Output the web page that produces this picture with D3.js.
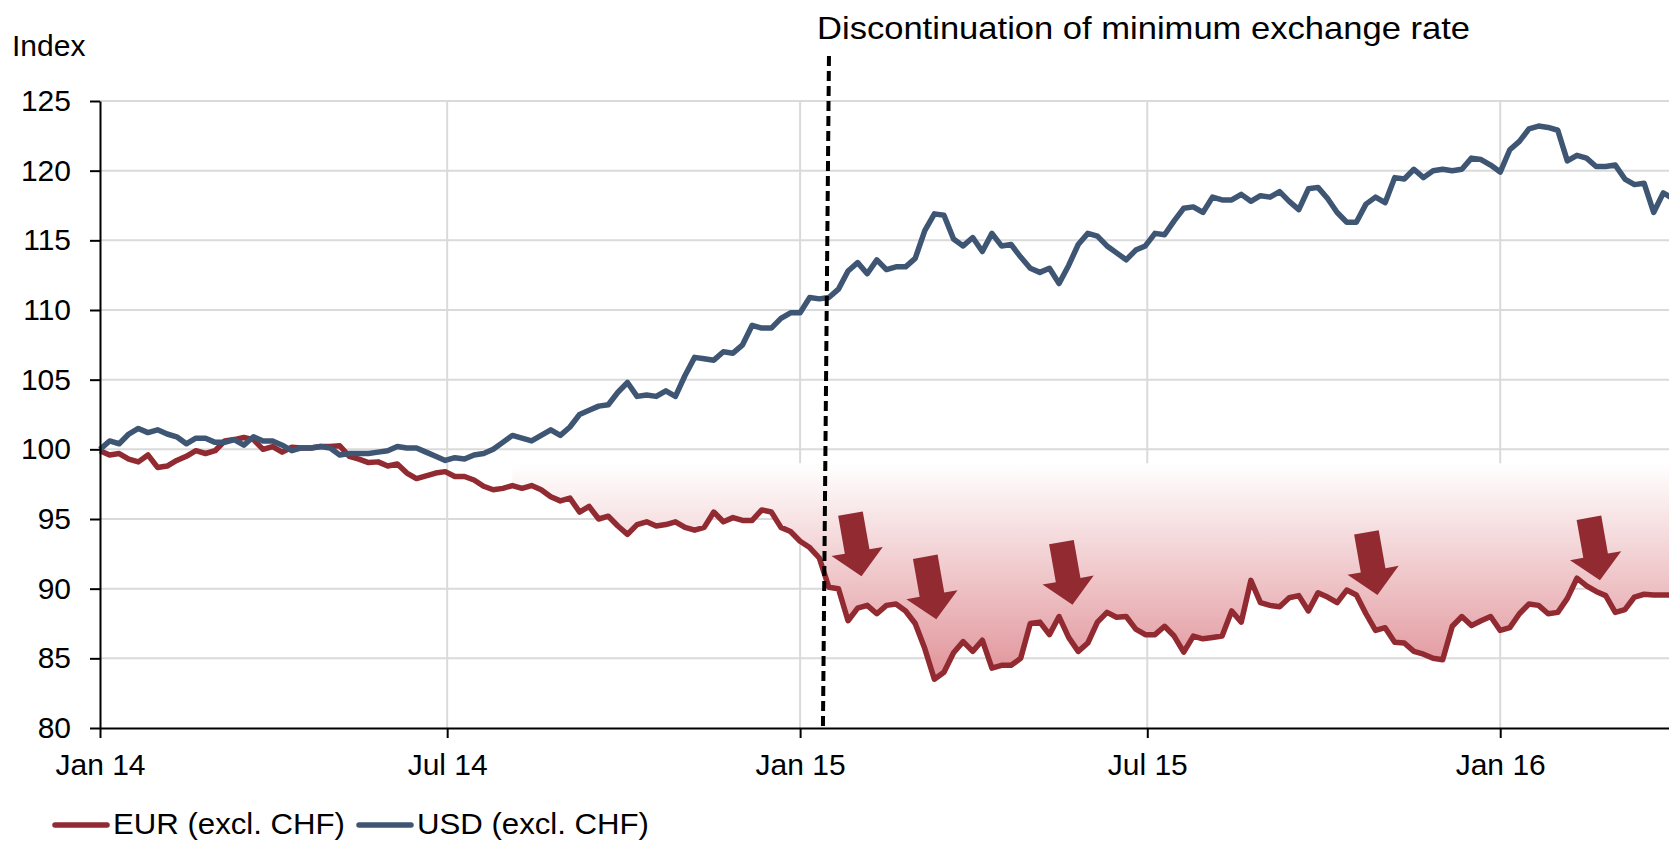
<!DOCTYPE html>
<html>
<head>
<meta charset="utf-8">
<script src="https://cdn.jsdelivr.net/npm/d3@7"></script>
<style>
  html, body { margin: 0; padding: 0; background: #fff; }
  svg { display: block; }
  text { font-family: "Liberation Sans", Arial, Helvetica, sans-serif; fill: #000; }
</style>
</head>
<body>
<svg id="chart" width="1669" height="842"></svg>
<script>
// Series are sampled every 5 days starting on 1 Jan 2014.
const startDate = new Date(2014, 0, 1);
const stepDays = 5;

const usd = [
  100.0, 100.6, 100.4, 101.1, 101.5, 101.2, 101.4, 101.1, 100.9, 100.4,
  100.8, 100.8, 100.5, 100.5, 100.7, 100.3, 100.9, 100.6, 100.6, 100.3,
  99.9, 100.1, 100.1, 100.2, 100.1, 99.6, 99.7, 99.7, 99.7, 99.8,
  99.9, 100.2, 100.1, 100.1, 99.8, 99.5, 99.2, 99.4, 99.3, 99.6,
  99.7, 100.0, 100.5, 101.0, 100.8, 100.6, 101.0, 101.4, 101.0, 101.6,
  102.5, 102.8, 103.1, 103.2, 104.1, 104.8, 103.8, 103.9, 103.8, 104.2,
  103.8, 105.3, 106.6, 106.5, 106.4, 107.0, 106.9, 107.5, 108.9, 108.7,
  108.7, 109.4, 109.8, 109.8, 110.9, 110.8, 110.9, 111.5, 112.8, 113.4,
  112.6, 113.6, 112.9, 113.1, 113.1, 113.7, 115.7, 116.9, 116.8, 115.1,
  114.6, 115.2, 114.2, 115.5, 114.6, 114.7, 113.8, 113.0, 112.7, 113.0,
  111.9, 113.2, 114.7, 115.5, 115.3, 114.6, 114.1, 113.6, 114.3, 114.6,
  115.5, 115.4, 116.4, 117.3, 117.4, 117.0, 118.1, 117.9, 117.9, 118.3,
  117.8, 118.2, 118.1, 118.5, 117.8, 117.2, 118.7, 118.8, 118.0, 117.0,
  116.3, 116.3, 117.6, 118.1, 117.7, 119.5, 119.4, 120.1, 119.5, 120.0,
  120.1, 120.0, 120.1, 120.9, 120.8, 120.4, 119.9, 121.5, 122.1, 123.0,
  123.2, 123.1, 122.9, 120.7, 121.1, 120.9, 120.3, 120.3, 120.4, 119.4,
  119.0, 119.1, 117.0, 118.4, 118.0
];

const eur = [
  99.9, 99.6, 99.7, 99.3, 99.1, 99.6, 98.7, 98.8, 99.2, 99.5,
  99.9, 99.7, 99.9, 100.6, 100.7, 100.85, 100.7, 100.0, 100.2, 99.8,
  100.15, 100.1, 100.1, 100.2, 100.2, 100.25, 99.5, 99.3, 99.05, 99.1,
  98.8, 98.95, 98.3, 97.9, 98.1, 98.3, 98.4, 98.05, 98.05, 97.8,
  97.35, 97.1, 97.2, 97.4, 97.2, 97.4, 97.1, 96.6, 96.3, 96.5,
  95.5, 95.9, 95.0, 95.2, 94.5, 93.9, 94.6, 94.8, 94.5, 94.6,
  94.8, 94.4, 94.2, 94.4, 95.5, 94.8, 95.1, 94.9, 94.9, 95.65,
  95.5, 94.4, 94.1, 93.4, 92.95, 92.2, 90.1, 90.0, 87.7, 88.6,
  88.8, 88.2, 88.8, 88.9, 88.4, 87.5, 85.7, 83.5, 84.0, 85.4,
  86.2, 85.5, 86.3, 84.3, 84.5, 84.5, 85.0, 87.5, 87.6, 86.7,
  88.0, 86.5, 85.5, 86.1, 87.6, 88.3, 87.95, 88.0, 87.1, 86.7,
  86.7, 87.3, 86.6, 85.45, 86.6, 86.4, 86.5, 86.6, 88.4, 87.6,
  90.6, 89.0, 88.8, 88.7, 89.35, 89.5, 88.4, 89.7, 89.4, 89.0,
  89.9, 89.55, 88.2, 87.0, 87.2, 86.15, 86.1, 85.5, 85.3, 85.0,
  84.9, 87.3, 88.0, 87.35, 87.7, 88.0, 87.0, 87.2, 88.2, 88.9,
  88.8, 88.2, 88.3, 89.3, 90.75, 90.2, 89.8, 89.5, 88.3, 88.5,
  89.4, 89.6, 89.55, 89.55, 89.55
];

const yTicks = [80, 85, 90, 95, 100, 105, 110, 115, 120, 125];
const xTicks = [new Date(2014, 0, 1), new Date(2014, 6, 1), new Date(2015, 0, 1), new Date(2015, 6, 1), new Date(2016, 0, 1)];

// Annotations
const titleText = 'Discontinuation of minimum exchange rate';
const floorDate = new Date(2015, 0, 15);
const fillStart = new Date(2014, 7, 1);
const fillTop = 99;
const arrowDates = [new Date(2015, 1, 2), new Date(2015, 2, 13), new Date(2015, 4, 23), new Date(2015, 9, 29), new Date(2016, 1, 22)];
const arrowValues = [90.9, 87.8, 88.85, 89.55, 90.6];

const seriesNames = ['EUR (excl. CHF)', 'USD (excl. CHF)'];
const colors = { eur: '#922a31', usd: '#3e5673', grid: '#dadada' };

const svg = d3.select('#chart');

var x = d3.scaleTime()
  .domain([new Date(2014, 0, 1), new Date(2016, 2, 29)])
  .range([100, 1669]);
var y = d3.scaleLinear().domain([80, 125]).range([728, 101]);

var dates = usd.map((_, i) => d3.timeDay.offset(startDate, i * stepDays));
var usdData = usd.map((v, i) => ({ date: dates[i], v: v }));
var eurData = eur.map((v, i) => ({ date: dates[i], v: v }));

// Gradient for the shaded loss area.
var defs = svg.append('defs');
var grad = defs.append('linearGradient')
  .attr('id', 'lossFill')
  .attr('gradientUnits', 'userSpaceOnUse')
  .attr('x1', 0).attr('x2', 0)
  .attr('y1', y(fillTop)).attr('y2', y(82.75));
grad.append('stop').attr('offset', 0).attr('stop-color', '#ffffff');
grad.append('stop').attr('offset', 1).attr('stop-color', '#df8e94');

// Gridlines.
svg.append('g')
  .selectAll('line')
  .data(yTicks.filter(d => d > 80))
  .enter().append('line')
  .attr('x1', 100).attr('x2', 1669)
  .attr('y1', d => y(d)).attr('y2', d => y(d))
  .style('stroke', colors.grid).style('stroke-width', 2);

svg.append('g')
  .selectAll('line')
  .data(xTicks.slice(1))
  .enter().append('line')
  .attr('x1', d => x(d)).attr('x2', d => x(d))
  .attr('y1', y(80)).attr('y2', y(125))
  .style('stroke', colors.grid).style('stroke-width', 2);

// Shaded area between the level and the EUR line.
var area = d3.area()
  .defined(d => d.date >= fillStart)
  .x(d => x(d.date))
  .y0(y(fillTop))
  .y1(d => y(Math.min(d.v, fillTop)));

svg.append('path')
  .datum(eurData)
  .attr('d', area)
  .style('fill', 'url(#lossFill)');

// Lines.
var line = d3.line().x(d => x(d.date)).y(d => y(d.v));

svg.append('path')
  .datum(eurData)
  .attr('d', line)
  .style('fill', 'none')
  .style('stroke', colors.eur)
  .style('stroke-width', 5.5)
  .style('stroke-linejoin', 'round');

svg.append('path')
  .datum(usdData)
  .attr('d', line)
  .style('fill', 'none')
  .style('stroke', colors.usd)
  .style('stroke-width', 5.5)
  .style('stroke-linejoin', 'round');

// Arrows (tip placed on date/value, tilted to the right).
var arrowShape = 'M0,0 L-26,-25 L-12.5,-25 L-12.5,-63.5 L12.5,-63.5 L12.5,-25 L26,-25 Z';
svg.append('g')
  .selectAll('path')
  .data(arrowDates)
  .enter().append('path')
  .attr('d', arrowShape)
  .attr('transform', (d, i) => 'translate(' + x(d) + ',' + y(arrowValues[i]) + ') rotate(-10)')
  .style('fill', colors.eur);

// Axes.
var yAxis = d3.axisLeft(y).tickValues(yTicks).tickSize(10).tickSizeOuter(0).tickPadding(19);
var gy = svg.append('g')
  .attr('transform', 'translate(100,0)')
  .call(yAxis);

var xAxis = d3.axisBottom(x)
  .tickValues(xTicks)
  .tickFormat(d3.timeFormat('%b %y'))
  .tickSize(10)
  .tickSizeOuter(0)
  .tickPadding(16);
var gx = svg.append('g')
  .attr('transform', 'translate(0,' + y(80) + ')')
  .call(xAxis);

[gx, gy].forEach(function (g) {
  g.attr('font-size', null).attr('font-family', null);
  g.selectAll('.domain').style('stroke', '#000').style('stroke-width', 2);
  g.selectAll('.tick line').style('stroke', '#000').style('stroke-width', 2);
  g.selectAll('.tick text').style('font-size', '30px').style('fill', '#000');
});

// Dashed marker for the discontinuation date.
var xd = x(floorDate);
svg.append('line')
  .attr('x1', xd + 2).attr('y1', 56)
  .attr('x2', xd - 4).attr('y2', 726)
  .style('stroke', '#000')
  .style('stroke-width', 4)
  .style('stroke-dasharray', '10,5');

svg.append('text')
  .attr('x', 817).attr('y', 39)
  .attr('textLength', 653)
  .attr('lengthAdjust', 'spacingAndGlyphs')
  .style('font-size', '32px')
  .text(titleText);

svg.append('text')
  .attr('x', 12).attr('y', 56)
  .style('font-size', '30px')
  .text('Index');

// Legend.
var legendItems = [
  { name: seriesNames[0], color: colors.eur, x: 55 },
  { name: seriesNames[1], color: colors.usd, x: 359 }
];
var lg = svg.append('g').selectAll('g').data(legendItems).enter().append('g');
lg.append('line')
  .attr('x1', d => d.x).attr('x2', d => d.x + 52)
  .attr('y1', 825).attr('y2', 825)
  .style('stroke', d => d.color)
  .style('stroke-width', 5.5)
  .style('stroke-linecap', 'round');
lg.append('text')
  .attr('x', d => d.x + 58)
  .attr('y', 834)
  .attr('textLength', 232)
  .attr('lengthAdjust', 'spacingAndGlyphs')
  .style('font-size', '30px')
  .text(d => d.name);
</script>
</body>
</html>
